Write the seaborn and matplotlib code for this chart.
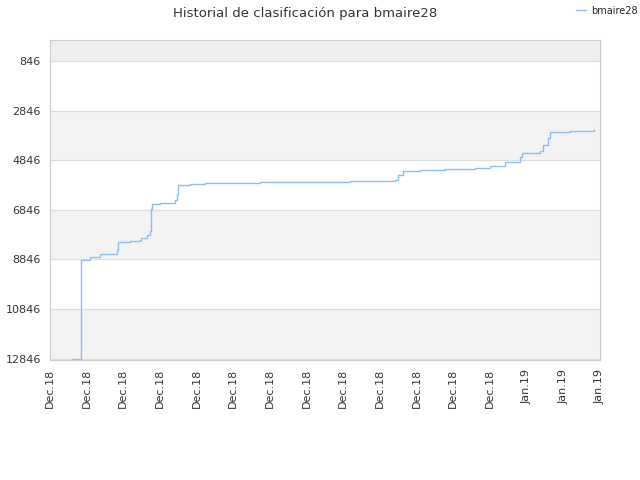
import matplotlib
matplotlib.use("Agg")
import matplotlib.pyplot as plt
import seaborn as sns
import pandas as pd

# pixel-read points converted to (day, rank)
days = [1.2, 1.64, 1.69, 2.18, 2.73, 3.65, 3.71, 4.36, 4.91, 4.96, 5.29, 5.45, 5.51, 5.56, 6.0, 6.82, 6.93, 6.98, 7.64, 8.45, 11.45, 16.36, 18.82, 18.98, 19.25, 20.18, 21.55, 23.18, 24.0, 24.82, 25.64, 25.75, 26.73, 26.89, 27.16, 27.27, 28.36, 29.67]
ranks = [12846, 12846, 8886, 8766, 8646, 8446, 8126, 8086, 8046, 7966, 7846, 7686, 6806, 6606, 6566, 6446, 6206, 5846, 5806, 5766, 5726, 5686, 5646, 5446, 5286, 5246, 5206, 5166, 5086, 4926, 4726, 4566, 4486, 4246, 3966, 3726, 3686, 3606]
yticks = [846, 2846, 4846, 6846, 8846, 10846, 12846]
xlabels = ["Dec.18"] * 13 + ["Jan.19"] * 3

sns.set_style("white")
fig = plt.figure(figsize=(6.4, 4.8), dpi=100)
ax = fig.add_axes([50/640, 120/480, 550/640, 320/480])
df = pd.DataFrame({"day": days, "rank": ranks})
ax.axhspan(0, 846, color="#eeeeee", zorder=0)
for a, b in [(2846, 4846), (6846, 8846), (10846, 12846)]:
    ax.axhspan(a, b, color="#f3f3f3", zorder=0)
for t in yticks:
    ax.axhline(t, color="#dddddd", lw=0.8, zorder=0.5)
sns.lineplot(data=df, x="day", y="rank", drawstyle="steps-post", color="#8fbff0", lw=1, ax=ax, label="bmaire28")
ax.set_ylim(12900, 0)
ax.set_xlim(0, 30)
ax.set_yticks(yticks)
ax.set_yticklabels([str(t) for t in yticks], fontsize=8, color="#333333")
ax.set_xticks([2*i for i in range(16)])
ax.set_xticklabels(xlabels, rotation=90, fontsize=8, color="#333333")
ax.tick_params(axis="both", length=3, color="#999999")
ax.set_xlabel(""); ax.set_ylabel("")
for s in ax.spines.values():
    s.set_color("#cccccc")
ax.legend(loc="upper left", bbox_to_anchor=(572/640, 1 - 2/480), bbox_transform=fig.transFigure,
          frameon=False, fontsize=7, handlelength=1, handletextpad=0.6, borderaxespad=0)
fig.suptitle("Historial de clasificación para bmaire28", x=305/640, y=0.985, fontsize=9.5, color="#333333")
fig.savefig("out.png", dpi=100)
